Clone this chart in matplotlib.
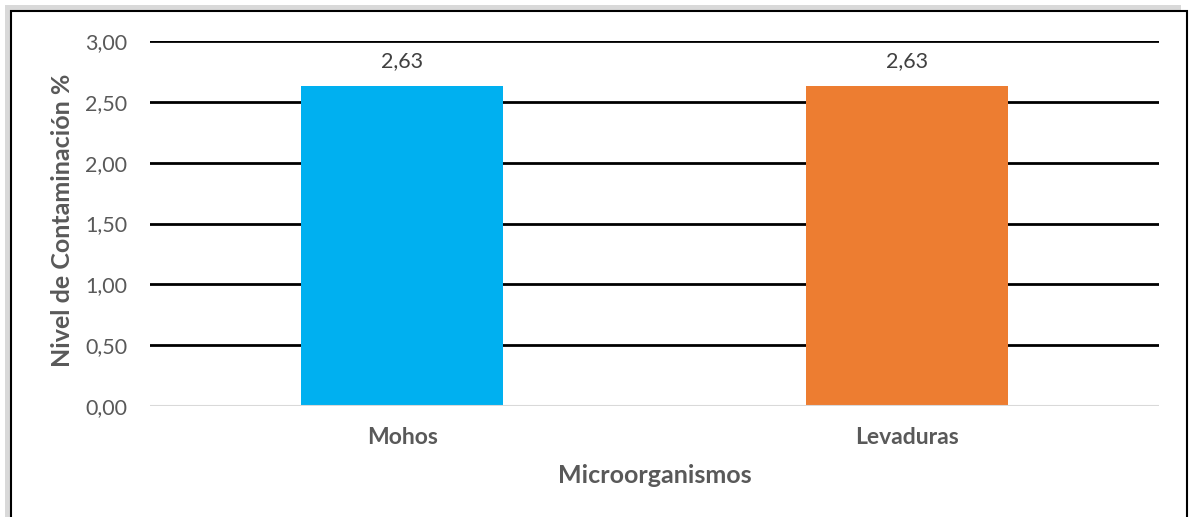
import matplotlib
matplotlib.use('Agg')
import matplotlib.pyplot as plt
import matplotlib.patheffects as pe
from matplotlib.patches import Rectangle

categories = ["Mohos", "Levaduras"]
values = [2.63, 2.63]
bar_colors = ["#00B0F0", "#ED7D31"]
yticks = [0.0, 0.5, 1.0, 1.5, 2.0, 2.5, 3.0]

plt.rcParams['font.family'] = ['Lato', 'DejaVu Sans']

fig = plt.figure(figsize=(11.89, 5.17), dpi=100)

# outer frame with soft shadow
frame = Rectangle((11 / 1189, -0.02), 1176 / 1189, 1 - 11 / 517 + 0.02,
                  transform=fig.transFigure, facecolor="white",
                  edgecolor="black", lw=1.5, zorder=-10,
                  path_effects=[pe.SimplePatchShadow(offset=(-4, 4), shadow_rgbFace="#A0A0A0", alpha=0.4),
                                pe.Normal()])
fig.patches.append(frame)

ax = fig.add_axes([150 / 1189, 1 - 406 / 517, 1009 / 1189, 365 / 517])
ax.set_facecolor("none")

x = range(len(categories))
bars = ax.bar(x, values, width=0.4, color=bar_colors, zorder=3)

for b, v in zip(bars, values):
    ax.text(b.get_x() + b.get_width() / 2, v + 0.12, f"{v:.2f}".replace(".", ","),
            ha="center", va="bottom", fontsize=15.5, color="#404040")

ax.set_xlim(-0.5, len(categories) - 0.5)
ax.set_ylim(0, 3.0)
ax.set_yticks(yticks)
ax.set_yticklabels([f"{t:.2f}".replace(".", ",") for t in yticks], fontsize=15.5, color="#595959")
ax.set_xticks(list(x))
ax.set_xticklabels(categories, fontsize=16.5, fontweight="bold", color="#595959")
ax.tick_params(length=0)
ax.tick_params(axis="y", pad=16.5)
ax.tick_params(axis="x", pad=15)

for t in yticks[1:]:
    ax.axhline(t, color="black", lw=2, zorder=1)
ax.axhline(0, color="#D9D9D9", lw=1.5, zorder=4)

for s in ax.spines.values():
    s.set_visible(False)

ax.set_ylabel("Nivel de Contaminación %", fontsize=18, fontweight="bold", color="#595959")
ax.yaxis.set_label_coords(-0.0872, 0.51)
ax.set_xlabel("Microorganismos", fontsize=18, fontweight="bold", color="#595959")
ax.xaxis.set_label_coords(0.5, -0.19)
ax.xaxis.label.set_va("center")
ax.yaxis.label.set_va("center")

plt.savefig("out.png", dpi=100)
plt.close()
